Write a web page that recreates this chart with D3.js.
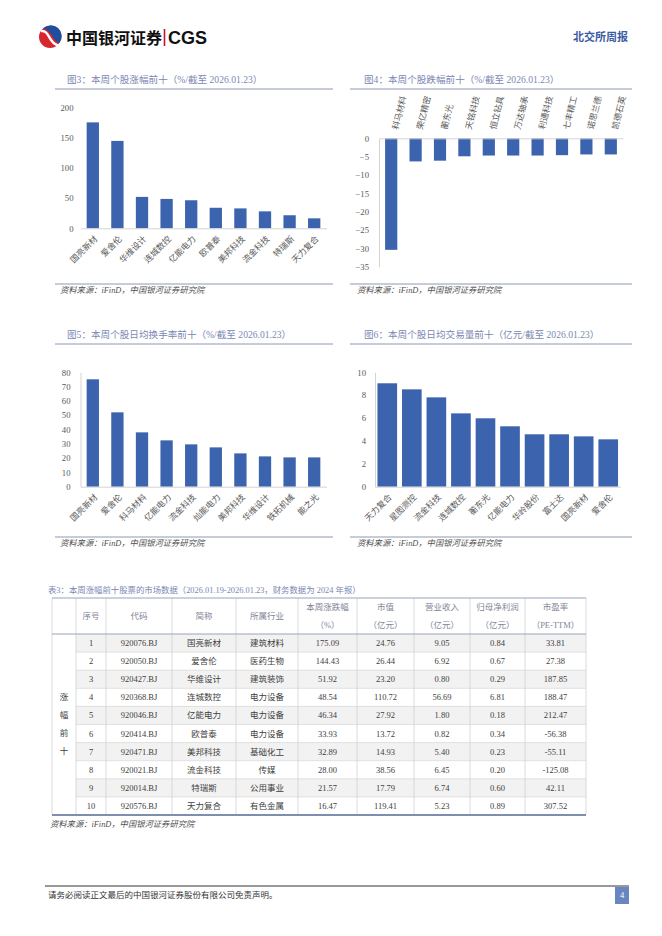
<!DOCTYPE html>
<html>
<head>
<meta charset="utf-8">
<script src="https://cdn.jsdelivr.net/npm/d3@7"></script>
<style>
body { margin: 0; background: #fff; }
text { font-family: "Liberation Serif", "Noto Sans CJK SC", serif; }
</style>
</head>
<body>
<svg id="page" width="662" height="936"></svg>
<script>

// ---- data ----
var riseNames = ["国亮新材", "爱舍伦", "华维设计", "连城数控", "亿能电力", "欧普泰", "美邦科技", "流金科技", "特瑞斯", "天力复合"];
var riseValues = [175.09, 144.43, 51.92, 48.54, 46.34, 33.93, 32.89, 28.00, 21.57, 16.47];
var riseTicks = [0, 50, 100, 150, 200];

var fallNames = ["科马材料", "荣亿精密", "蘅东光", "天铭科技", "恒立钻具", "万达轴承", "利通科技", "七丰精工", "诺思兰德", "凯德石英"];
var fallValues = [-30.4, -6.3, -6.1, -4.9, -4.7, -4.7, -4.7, -4.6, -4.4, -4.4];
var fallTicks = [0, -5, -10, -15, -20, -25, -30, -35];

var turnNames = ["国亮新材", "爱舍伦", "科马材料", "亿能电力", "流金科技", "灿能电力", "美邦科技", "华维设计", "铁拓机械", "能之光"];
var turnValues = [75.1, 52.0, 38.0, 32.4, 29.6, 27.5, 23.3, 21.2, 20.5, 20.5];
var turnTicks = [0, 10, 20, 30, 40, 50, 60, 70, 80];

var amtNames = ["天力复合", "星图测控", "流金科技", "连城数控", "蘅东光", "亿能电力", "华岭股份", "富士达", "国亮新材", "爱舍伦"];
var amtValues = [9.04, 8.51, 7.81, 6.41, 5.98, 5.28, 4.58, 4.58, 4.40, 4.14];
var amtTicks = [0, 2, 4, 6, 8, 10];

// table 3
var tblCodes = ["920076.BJ", "920050.BJ", "920427.BJ", "920368.BJ", "920046.BJ", "920414.BJ", "920471.BJ", "920021.BJ", "920014.BJ", "920576.BJ"];
var tblIndustry = ["建筑材料", "医药生物", "建筑装饰", "电力设备", "电力设备", "电力设备", "基础化工", "传媒", "公用事业", "有色金属"];
var tblMktCap = [24.76, 26.44, 23.20, 110.72, 27.92, 13.72, 14.93, 38.56, 17.79, 119.41];
var tblRevenue = [9.05, 6.92, 0.80, 56.69, 1.80, 0.82, 5.40, 6.45, 6.74, 5.23];
var tblProfit = [0.84, 0.67, 0.29, 6.81, 0.18, 0.34, 0.23, 0.20, 0.60, 0.89];
var tblPE = [33.81, 27.38, 187.85, 188.47, 212.47, -56.38, -55.11, -125.08, 42.11, 307.52];
var tblHeaders = [[""], ["序号"], ["代码"], ["简称"], ["所属行业"], ["本周涨跌幅", "（%）"], ["市值", "（亿元）"], ["营业收入", "（亿元）"], ["归母净利润", "（亿元）"], ["市盈率", "（PE-TTM）"]];

var barColor = "#3c63ad";
var axisColor = "#d4d4d4";
var tickColor = "#595959";
var titleColor = "#7b87b3";
var ruleColor = "#8e98b6";
var sourceText = "资料来源：iFinD，中国银河证券研究院";

var svg = d3.select("#page");
svg.append("rect").attr("width", 662).attr("height", 936).attr("fill", "#fff");

// ---- header ----
var logo = svg.append("g");
logo.append("circle").attr("cx", 50).attr("cy", 37).attr("r", 11).attr("fill", "#d7262e");
logo.append("path")
	.attr("d", "M43,28.5 A11,11 0 0 1 59.5,43 C52,41 53,31 43,28.5 Z")
	.attr("fill", "#1f4e9c");
logo.append("path")
	.attr("d", "M41,31 C50,30 48,43 58,45.5")
	.attr("fill", "none").attr("stroke", "#fff").attr("stroke-width", 2.4);
logo.append("text").attr("x", 66).attr("y", 43.5)
	.style("font-family", "'Noto Sans CJK SC'").style("font-weight", 700).style("font-size", "16px")
	.attr("fill", "#111").text("中国银河证券");
logo.append("line").attr("x1", 164.5).attr("x2", 164.5).attr("y1", 29).attr("y2", 46)
	.attr("stroke", "#c8102e").attr("stroke-width", 1.6);
logo.append("text").attr("x", 168).attr("y", 44)
	.style("font-family", "'Liberation Sans', Arial").style("font-weight", 700).style("font-size", "18px")
	.attr("fill", "#111").text("CGS");
svg.append("text").attr("x", 628).attr("y", 41).attr("text-anchor", "end")
	.style("font-size", "11px").style("font-weight", 700).attr("fill", "#3b5ba5").text("北交所周报");

// ---- bar charts ----
function barChart(cfg) {

	var g = svg.append("g");

	g.append("text").attr("x", cfg.titleX).attr("y", cfg.titleY)
		.style("font-size", "9.6px").attr("fill", titleColor).text(cfg.title);
	g.append("line").attr("x1", cfg.frame[0]).attr("x2", cfg.frame[1])
		.attr("y1", cfg.titleY + 6).attr("y2", cfg.titleY + 6)
		.attr("stroke", ruleColor).attr("stroke-width", 1);

	var x = d3.scaleBand().domain(cfg.names).range(cfg.xRange)
		.paddingInner(cfg.pi).paddingOuter(cfg.po);
	var y = d3.scaleLinear().domain(cfg.yDomain).range(cfg.yRange);

	g.selectAll("rect.bar").data(cfg.values).enter().append("rect") //
	.attr("class", "bar") //
	.attr("x", function(d, i) {
		return x(cfg.names[i]);
	}) //
	.attr("y", function(d) {
		return Math.min(y(d), y(0));
	}) //
	.attr("width", x.bandwidth()) //
	.attr("height", function(d) {
		return Math.abs(y(d) - y(0));
	}) //
	.attr("fill", barColor);

	var yAxis = d3.axisLeft(y).tickValues(cfg.ticks).tickSize(0).tickSizeOuter(0).tickPadding(cfg.pad);
	var ya = g.append("g").attr("transform", "translate(" + cfg.xRange[0] + ",0)").call(yAxis);
	ya.select(".domain").attr("stroke", cfg.yLine ? axisColor : "none");
	ya.selectAll("text").attr("fill", tickColor).style("font-size", "8.7px");

	var xAxis = d3.axisBottom(x).tickSize(0).tickSizeOuter(0);
	var xa = g.append("g").attr("transform", "translate(0," + y(0) + ")").call(xAxis);
	xa.select(".domain").attr("stroke", axisColor);
	xa.selectAll(".tick text") //
	.attr("y", 0).attr("dy", "0.35em") //
	.attr("fill", tickColor).style("font-size", "8.5px") //
	.style("font-family", "'Noto Sans CJK SC'") //
	.attr("text-anchor", cfg.labelsAbove ? "start" : "end") //
	.attr("transform", cfg.labelTransform);

	g.append("line").attr("x1", cfg.frame[0]).attr("x2", cfg.frame[1])
		.attr("y1", cfg.sourceY - 9).attr("y2", cfg.sourceY - 9)
		.attr("stroke", ruleColor).attr("stroke-width", 1);
	g.append("text").attr("x", cfg.titleX - 7).attr("y", cfg.sourceY)
		.style("font-size", "8.3px").style("font-style", "italic")
		.attr("fill", "#505050").text(sourceText);

}// END: barChart

barChart({
	title: "图3：本周个股涨幅前十（%/截至 2026.01.23）",
	titleX: 67, titleY: 83, frame: [55, 333], sourceY: 293,
	names: riseNames, values: riseValues, ticks: riseTicks,
	xRange: [80.5, 326.5], pi: 0.5, po: 0.25,
	yDomain: [0, 200], yRange: [228.3, 107.3], pad: 7, yLine: false,
	labelTransform: "translate(3,9) rotate(-45)"
});

barChart({
	title: "图4：本周个股跌幅前十（%/截至 2026.01.23）",
	titleX: 364, titleY: 83, frame: [350, 632], sourceY: 293,
	names: fallNames, values: fallValues, ticks: fallTicks,
	xRange: [379, 623], pi: 0.5, po: 0.25,
	yDomain: [-35, 0], yRange: [266.7, 138.3], pad: 10, yLine: true,
	labelsAbove: true,
	labelTransform: "translate(4,-9) rotate(-76)"
});

barChart({
	title: "图5：本周个股日均换手率前十（%/截至 2026.01.23）",
	titleX: 67, titleY: 338, frame: [55, 333], sourceY: 546,
	names: turnNames, values: turnValues, ticks: turnTicks,
	xRange: [80.5, 326.5], pi: 0.5, po: 0.25,
	yDomain: [0, 80], yRange: [486.7, 372.3], pad: 10, yLine: true,
	labelTransform: "translate(3,9) rotate(-45)"
});

barChart({
	title: "图6：本周个股日均交易量前十（亿元/截至 2026.01.23）",
	titleX: 364, titleY: 338, frame: [350, 632], sourceY: 546,
	names: amtNames, values: amtValues, ticks: amtTicks,
	xRange: [375, 620.5], pi: 0.2, po: 0.1,
	yDomain: [0, 10], yRange: [486.7, 372.3], pad: 9, yLine: true,
	labelTransform: "translate(3,9) rotate(-45)"
});

// ---- table 3 ----
var colEdges = [52, 76, 106, 172, 236, 298, 357, 414, 470, 525, 586];
var tableTop = 598, headH = 36, rowH = 18.1;
var bodyTop = tableTop + headH;
var bodyBottom = bodyTop + rowH * 10;
var tbl = svg.append("g");

tbl.append("text").attr("x", 48).attr("y", 593)
	.style("font-size", "8.4px").attr("fill", titleColor)
	.text("表3：本周涨幅前十股票的市场数据（2026.01.19-2026.01.23，财务数据为 2024 年报）");

var rows = d3.range(10).map(function(i) {
	return [String(i + 1), tblCodes[i], riseNames[i], tblIndustry[i],
		riseValues[i].toFixed(2), tblMktCap[i].toFixed(2), tblRevenue[i].toFixed(2),
		tblProfit[i].toFixed(2), tblPE[i].toFixed(2)];
});

// stripes
tbl.selectAll("rect.stripe").data(rows).enter().append("rect") //
.attr("class", "stripe") //
.attr("x", colEdges[1]).attr("width", colEdges[10] - colEdges[1]) //
.attr("y", function(d, i) {
	return bodyTop + i * rowH;
}) //
.attr("height", rowH) //
.attr("fill", function(d, i) {
	return i % 2 === 0 ? "#f2f2f2" : "#fff";
});

// row lines
tbl.selectAll("line.row").data(d3.range(1, 10)).enter().append("line") //
.attr("x1", colEdges[1]).attr("x2", colEdges[10]) //
.attr("y1", function(d) { return bodyTop + d * rowH; }) //
.attr("y2", function(d) { return bodyTop + d * rowH; }) //
.attr("stroke", "#d9d9d9").attr("stroke-width", 0.8);

// column lines
tbl.selectAll("line.col").data(colEdges).enter().append("line") //
.attr("x1", function(d) { return d; }).attr("x2", function(d) { return d; }) //
.attr("y1", tableTop).attr("y2", bodyBottom) //
.attr("stroke", "#d0d0d0").attr("stroke-width", 0.8);

tbl.append("line").attr("x1", colEdges[0]).attr("x2", colEdges[10])
	.attr("y1", tableTop).attr("y2", tableTop).attr("stroke", "#9aa3bd").attr("stroke-width", 1);
tbl.append("line").attr("x1", colEdges[0]).attr("x2", colEdges[10])
	.attr("y1", bodyTop).attr("y2", bodyTop).attr("stroke", "#9aa3bd").attr("stroke-width", 1);
tbl.append("line").attr("x1", colEdges[0]).attr("x2", colEdges[10])
	.attr("y1", bodyBottom).attr("y2", bodyBottom).attr("stroke", "#7f8db0").attr("stroke-width", 2);

// header texts
tblHeaders.forEach(function(h, c) {
	var cx = (colEdges[c] + colEdges[c + 1]) / 2;
	h.forEach(function(line, k) {
		var yy = h.length === 1 ? tableTop + headH / 2 : tableTop + 9.5 + k * 17.5;
		tbl.append("text").attr("x", cx).attr("y", yy).attr("dy", "0.35em")
			.attr("text-anchor", "middle").style("font-size", "8.5px")
			.attr("fill", "#7f8497").text(line);
	});
});

// body texts
rows.forEach(function(r, i) {
	r.forEach(function(v, c) {
		var cx = (colEdges[c + 1] + colEdges[c + 2]) / 2;
		tbl.append("text").attr("x", cx).attr("y", bodyTop + i * rowH + rowH / 2)
			.attr("dy", "0.35em").attr("text-anchor", "middle")
			.style("font-size", "8.5px").attr("fill", "#404040").text(v);
	});
});

// merged first column
["涨", "幅", "前", "十"].forEach(function(ch, k) {
	tbl.append("text").attr("x", (colEdges[0] + colEdges[1]) / 2)
		.attr("y", (bodyTop + bodyBottom) / 2 - 27 + k * 18).attr("dy", "0.35em")
		.attr("text-anchor", "middle").style("font-size", "8.5px")
		.attr("fill", "#404040").text(ch);
});

tbl.append("text").attr("x", 50).attr("y", 827)
	.style("font-size", "8.3px").style("font-style", "italic")
	.attr("fill", "#505050").text(sourceText);

// ---- footer ----
svg.append("line").attr("x1", 45).attr("x2", 629).attr("y1", 886).attr("y2", 886)
	.attr("stroke", "#333").attr("stroke-width", 1);
svg.append("text").attr("x", 48).attr("y", 898)
	.style("font-size", "8.5px").attr("fill", "#333")
	.text("请务必阅读正文最后的中国银河证券股份有限公司免责声明。");
svg.append("rect").attr("x", 615).attr("y", 887).attr("width", 14).attr("height", 17)
	.attr("fill", "#6a86c0");
svg.append("text").attr("x", 622).attr("y", 895.5).attr("dy", "0.35em").attr("text-anchor", "middle")
	.style("font-size", "8.5px").attr("fill", "#fff").text("4");

</script>
</body>
</html>
